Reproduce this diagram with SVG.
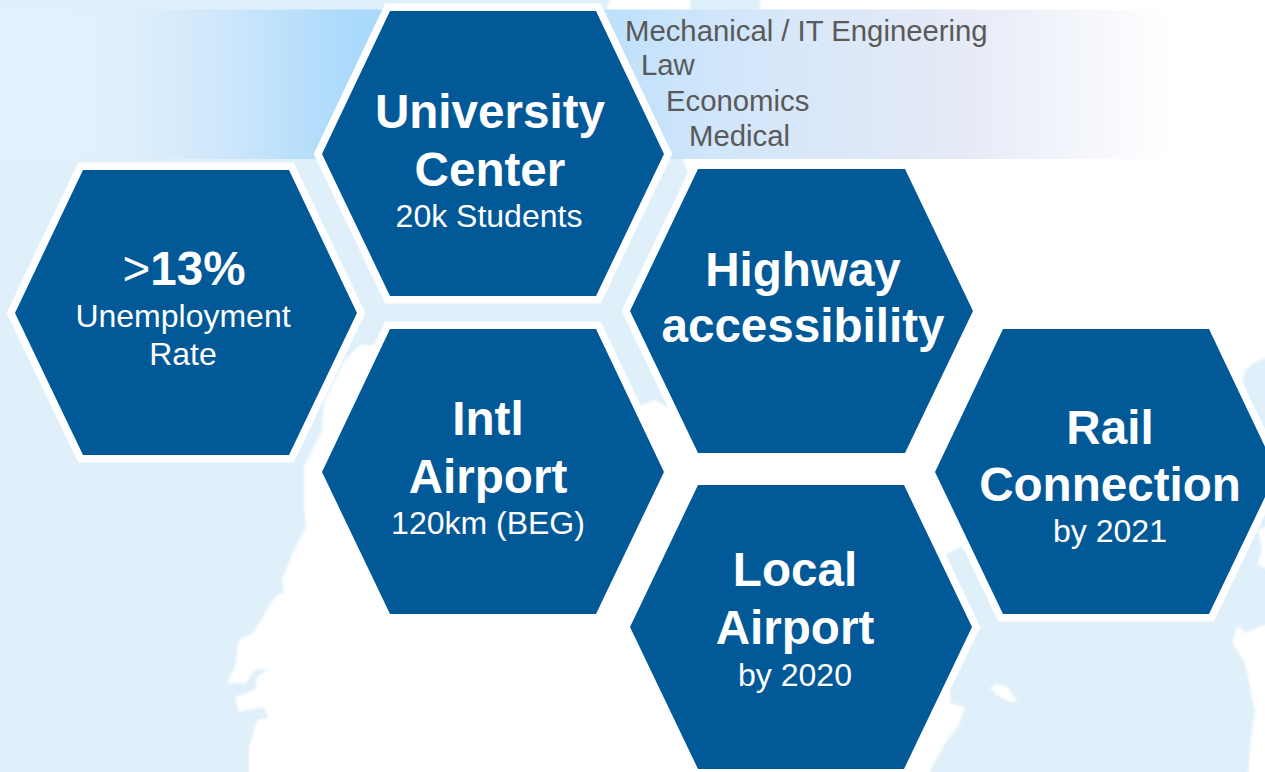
<svg xmlns="http://www.w3.org/2000/svg" width="1265" height="772" viewBox="0 0 1265 772">
<style>
.hex{fill:#025997;stroke:#fff;stroke-width:15;stroke-linejoin:miter;stroke-miterlimit:4;paint-order:stroke}
text{font-family:"Liberation Sans",Arial,sans-serif;fill:#fff;text-anchor:middle}
.h{font-size:47.6px;font-weight:700}
.s{font-size:32px}
.g{font-size:29.3px;fill:#595959;text-anchor:start}
</style>
<defs>
<linearGradient id="band" x1="0" x2="1170" y1="0" y2="0" gradientUnits="userSpaceOnUse">
<stop offset="0" stop-color="#e3f2fc"/>
<stop offset="0.1" stop-color="#e1f0fb"/>
<stop offset="0.19" stop-color="#cfe7fb"/>
<stop offset="0.305" stop-color="#a9d9fb"/>
<stop offset="0.53" stop-color="#c0e1fb"/>
<stop offset="0.62" stop-color="#d2e6fa"/>
<stop offset="0.82" stop-color="#e5eaf6"/>
<stop offset="1" stop-color="#ffffff"/>
</linearGradient>
<filter id="soft" x="-2%" y="-2%" width="104%" height="104%"><feGaussianBlur stdDeviation="0.8"/></filter>
</defs>
<g id="background">
<rect width="1265" height="772" fill="#fff"/>
<g fill="#e0f0fb" filter="url(#soft)">
<path d="M-5 -5H612L606 12H620L700 200L668 408L655 400L640 406L630 420L610 350L360 345L345 360L324 402L322 430L304 467L304 507L306 527L294 550L282 580L284 592L275 597L253 633L239 640L235 667L227 683L245 683L255 670L269 668L257 677L255 690L235 697L239 712L263 707L269 718L257 720L249 747L249 780H-5Z"/>
<path d="M945 555L962 546L1010 600L1240 600L1238 625L1232 643L1245 663L1252 697L1255 710L1250 747L1248 780H925L947 740L958 727L965 707L950 703L950 692L900 640Z"/>
<path d="M1243 380L1245 370L1255 362L1270 356V525L1258 530L1262 550L1258 565L1270 570V623L1245 633L1238 625L1225 620L1200 470Z"/>
<path d="M690 -5H760V12H690Z"/>
</g>
<path fill="#fff" filter="url(#soft)" d="M990 688L997 684L1008 687L1017 702L1010 702L997 695Z"/>
<rect x="0" y="9.5" width="1170" height="149.5" fill="url(#band)"/>
</g>
<g id="connectors"></g>
<g id="node-unemployment">
<polygon class="hex" points="83,170 289,170 357,313 289,455 83,455 15,313"/>
<text x="184" y="285" class="h"><tspan font-weight="400">&gt;</tspan>13%</text>
<text x="183" y="327" class="s">Unemployment</text>
<text x="183" y="365" class="s">Rate</text>
</g>
<g id="node-university">
<polygon class="hex" points="390,11 596,11 664,154 596,296 390,296 322,154"/>
<text x="490" y="128" class="h">University</text>
<text x="490" y="186" class="h">Center</text>
<text x="489" y="227" class="s">20k Students</text>
</g>
<g id="node-intl-airport">
<polygon class="hex" points="390,329 596,329 664,472 596,614 390,614 322,472"/>
<text x="488" y="435" class="h">Intl</text>
<text x="488" y="493" class="h">Airport</text>
<text x="488" y="534" class="s">120km (BEG)</text>
</g>
<g id="node-highway">
<polygon class="hex" points="698,169 905,169 973,311 905,453 698,453 630,311"/>
<text x="803" y="286" class="h">Highway</text>
<text x="803" y="342" class="h">accessibility</text>
</g>
<g id="node-local-airport">
<polygon class="hex" points="698,485 904,485 972,627 904,769 698,769 630,627"/>
<text x="795" y="586" class="h">Local</text>
<text x="795" y="644" class="h">Airport</text>
<text x="795" y="686" class="s">by 2020</text>
</g>
<g id="node-rail">
<polygon class="hex" points="1003,329 1209,329 1277,472 1209,614 1003,614 935,472"/>
<text x="1110" y="444" class="h">Rail</text>
<text x="1110" y="501" class="h">Connection</text>
<text x="1110" y="542" class="s">by 2021</text>
</g>
<g id="faculties">
<text x="625" y="41" class="g">Mechanical / IT Engineering</text>
<text x="641" y="75" class="g">Law</text>
<text x="666" y="111" class="g">Economics</text>
<text x="689" y="146" class="g">Medical</text>
</g>
</svg>
